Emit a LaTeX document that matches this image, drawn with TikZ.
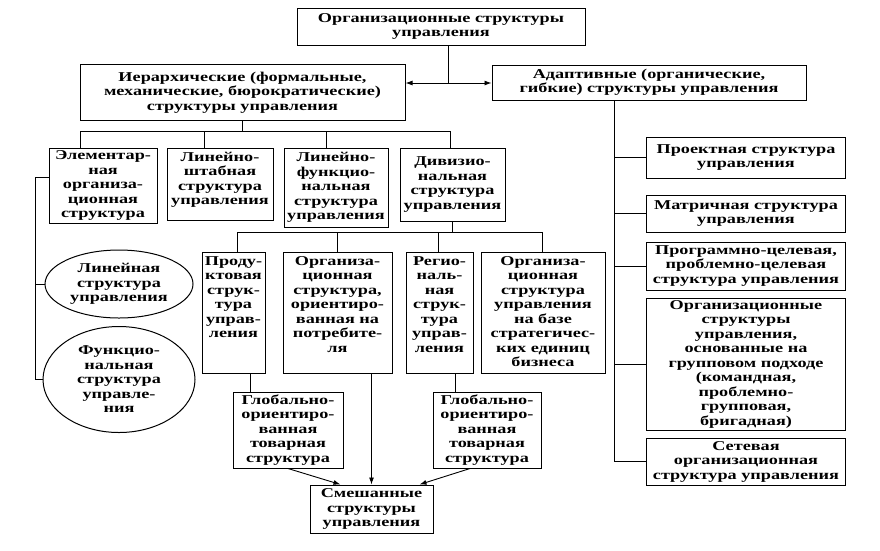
\documentclass[tikz,border=0pt]{standalone}
\usepackage{fontspec}
\setmainfont{Liberation Serif}[FakeStretch=1.35]
\usetikzlibrary{shapes.geometric,arrows.meta}
\hyphenpenalty=10000
\exhyphenpenalty=10000

\begin{document}
\begin{tikzpicture}[x=1pt,y=-1pt,>={Latex[length=7pt,width=5pt]},
    box/.style={draw,line width=1pt,align=center,inner sep=2pt,
      font=\bfseries\fontsize{13.5}{14.5}\selectfont},
    sbox/.style={box,minimum width=#1},
    tbox/.style={box,anchor=north,text width=#1,text height=10.5pt},
    oval/.style={box,ellipse,inner sep=0pt},
    line/.style={line width=0.9pt}]
  \useasboundingbox (0,0) rectangle (880,550);

  % top levels
  \node [sbox=288,minimum height=37] (org) at (441,26.5)
    {Организационные структуры\\управления};
  \node [sbox=325,minimum height=56] (hier) at (242.5,92.5)
    {Иерархические (формальные,\\механические, бюрократические)\\структуры управления};
  \node [sbox=314,minimum height=35] (adapt) at (649,82.5)
    {Адаптивные (органические,\\гибкие) структуры управления};

  % hierarchical structures
  \node [sbox=108,minimum height=75] (elem) at (103,185.5)
    {Элементар-\\ная\\организа-\\ционная\\структура};
  \node [tbox=102,text depth=57.5pt] (linstab) at (220,148)
    {Линейно-\\штабная\\структура\\управления};
  \node [sbox=104,minimum height=79] (linfunc) at (336,187.5)
    {Линейно-\\функцио-\\нальная\\структура\\управления};
  \node [sbox=105,minimum height=73] (divis) at (452.5,184.5)
    {Дивизио-\\нальная\\структура\\управления};
  \node [oval,minimum width=148,minimum height=68] (lin) at (119,284)
    {Линейная\\структура\\управления};
  \node [oval,minimum width=152,minimum height=106] (func) at (119,379.5)
    {Функцио-\\нальная\\структура\\управле-\\ния};

  % divisional structures
  \node [tbox=59,text depth=106.5pt] (prod) at (233.5,252)
    {Проду-\\ктовая\\струк-\\тура\\управ-\\ления};
  \node [tbox=105,text depth=106.5pt] (cons) at (337.5,252)
    {Организа-\\ционная\\структура,\\ориентиро-\\ванная на\\потребите-\\ля};
  \node [tbox=63,text depth=106.5pt] (region) at (439.5,252)
    {Регио-\\наль-\\ная\\струк-\\тура\\управ-\\ления};
  \node [tbox=120,text depth=106.5pt] (sbu) at (543,252)
    {Организа-\\ционная\\структура\\управления\\на базе\\стратегичес-\\ких единиц\\бизнеса};
  \node [sbox=110,minimum height=76] (glob1) at (288,430)
    {Глобально-\\ориентиро-\\ванная\\товарная\\структура};
  \node [sbox=108,minimum height=76] (glob2) at (487,430)
    {Глобально-\\ориентиро-\\ванная\\товарная\\структура};
  \node [sbox=123,minimum height=48] (mixed) at (371.5,509)
    {Смешанные\\структуры\\управления};

  % adaptive structures
  \node [sbox=199,minimum height=41] (proj) at (746,157.5)
    {Проектная структура\\управления};
  \node [sbox=199,minimum height=37] (matr) at (746,213.5)
    {Матричная структура\\управления};
  \node [sbox=199,minimum height=48] (prog) at (746,266)
    {Программно-целевая,\\проблемно-целевая\\структура управления};
  \node [sbox=199,minimum height=132] (group) at (746,364)
    {Организационные\\структуры\\управления,\\основанные на\\групповом подходе\\(командная,\\проблемно-\\групповая,\\бригадная)};
  \node [sbox=199,minimum height=47] (net) at (746,461.5)
    {Сетевая\\организационная\\структура управления};

  % connectors
  \coordinate (split) at (448,83);
  \draw [line] (org.south -| split) -- (split);
  \draw [line,->] (split) -- (hier.east |- split);
  \draw [line,->] (split) -- (adapt.west |- split);

  \coordinate (hbus) at (hier.south |- 0,131);
  \draw [line] (hier.south) -- (hbus);
  \foreach \n/\x in {elem/80,linstab/204,linfunc/326,divis/450}
    \draw [line] (\n.north -| \x,0) |- (hbus);

  \coordinate (lcorner) at (35,177);
  \draw [line] (elem.west |- lcorner) -- (lcorner) |- (func.west);
  \draw [line] (lcorner |- lin.west) -- (lin.west);

  \coordinate (dbus) at (divis.south |- 0,232);
  \draw [line] (divis.south) -- (dbus);
  \foreach \n/\x in {prod/237,cons/337,region/438,sbu/542}
    \draw [line] (\n.north -| \x,0) |- (dbus);

  \coordinate (pdrop) at (250,0);
  \coordinate (rdrop) at (455,0);
  \draw [line] (prod.south -| pdrop) -- (glob1.north -| pdrop);
  \draw [line] (region.south -| rdrop) -- (glob2.north -| rdrop);
  \draw [line,->] (cons.south -| mixed.north) -- (mixed.north);
  \draw [line,->] (glob1.south) -- ([xshift=-31pt]mixed.north);
  \draw [line,->] ([xshift=-17pt]glob2.south) -- ([xshift=48pt]mixed.north);

  \coordinate (rline) at (614,0);
  \draw [line] (adapt.south -| rline) |- (net.west);
  \foreach \n in {proj,matr,prog,group}
    \draw [line] (rline |- \n.west) -- (\n.west);
\end{tikzpicture}
\end{document}
